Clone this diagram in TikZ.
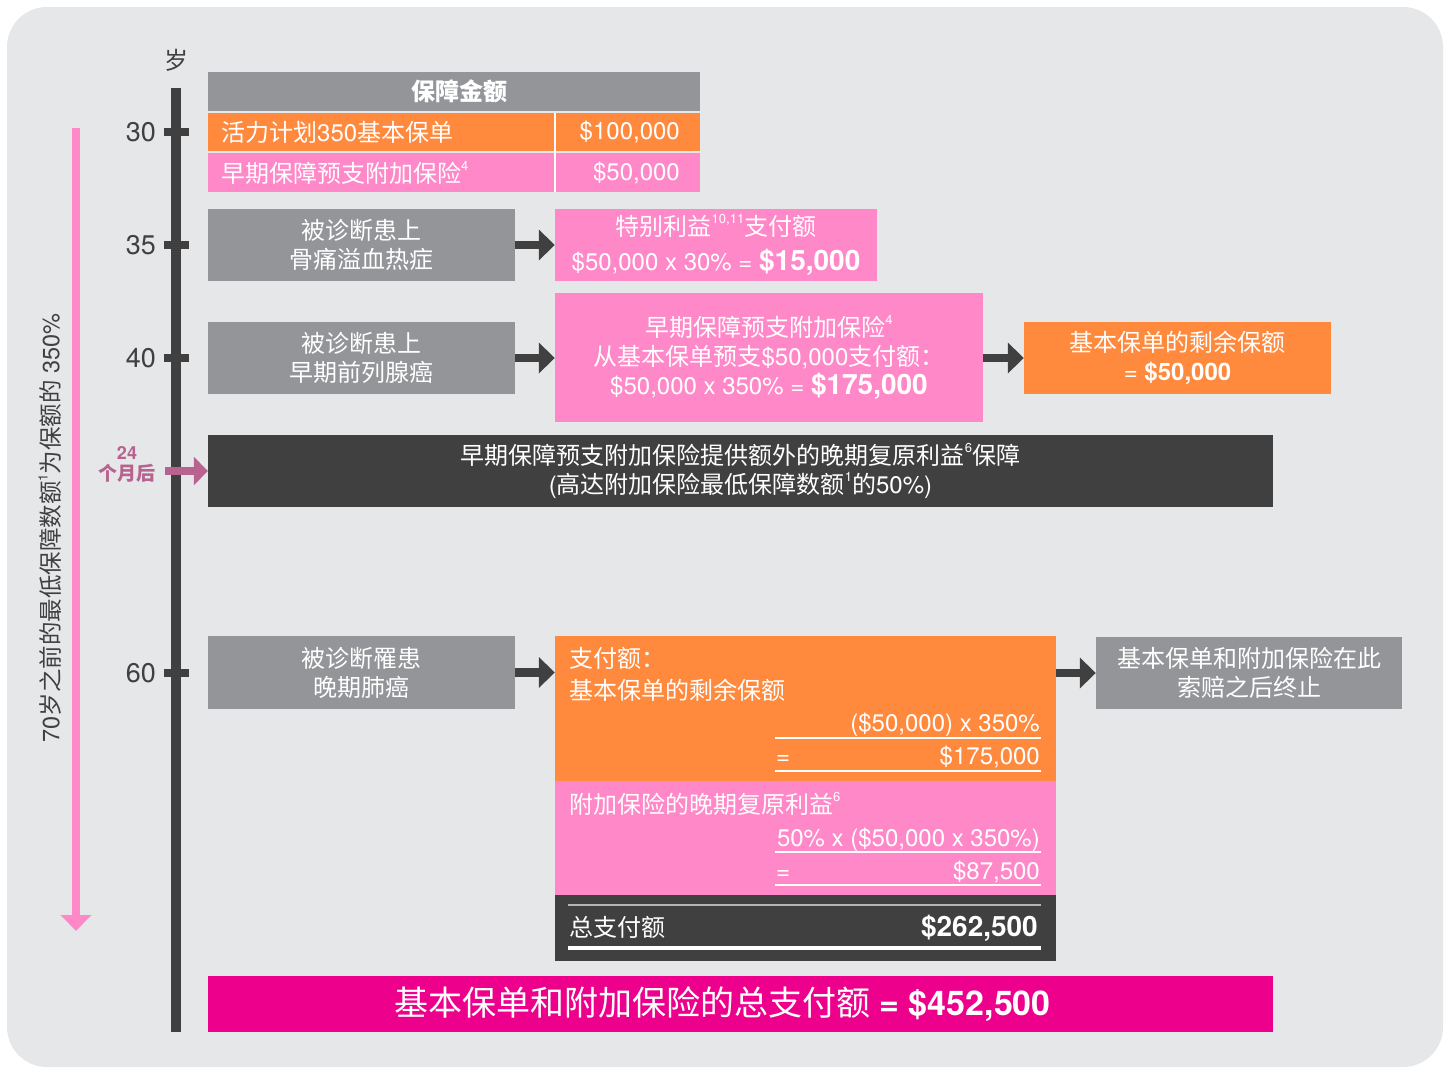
\documentclass[tikz,border=0pt]{standalone}
\usepackage{fontspec}
\setmainfont{TeX Gyre Heros}
\newfontfamily\cjkfont{Noto Sans CJK SC}
\XeTeXinterchartokenstate=1
\newXeTeXintercharclass\cjkcls
\newcount\cjkc
\cjkc="4E00
\loop \XeTeXcharclass\cjkc=\cjkcls \ifnum\cjkc<"9FFF \advance\cjkc by 1 \repeat
\cjkc="3000
\loop \XeTeXcharclass\cjkc=\cjkcls \ifnum\cjkc<"303F \advance\cjkc by 1 \repeat
\cjkc="FF00
\loop \XeTeXcharclass\cjkc=\cjkcls \ifnum\cjkc<"FFEF \advance\cjkc by 1 \repeat
\XeTeXinterchartoks 0 \cjkcls = {\cjkfont}
\XeTeXinterchartoks 4095 \cjkcls = {\cjkfont}
\XeTeXinterchartoks \cjkcls 0 = {\rmfamily}
\XeTeXinterchartoks \cjkcls 4095 = {\rmfamily}
\usetikzlibrary{arrows.meta}
\definecolor{bgc}{HTML}{E6E7E9}
\definecolor{orng}{HTML}{FF8A3D}
\definecolor{pnk}{HTML}{FF88C8}
\definecolor{gry}{HTML}{939598}
\definecolor{drk}{HTML}{404040}
\definecolor{mag}{HTML}{EC008C}
\definecolor{mauve}{HTML}{B8628F}
\newcommand{\supr}[1]{\raisebox{0.5em}{\fontsize{13}{13}\selectfont\rmfamily #1}}
\newcommand{\fs}[1]{\fontsize{#1}{#1}\selectfont}
\tikzset{
  box/.style={inner sep=0pt, text=white, align=center, font=\fontsize{24}{29}\selectfont},
  conn/.style={drk, line width=8.5pt, -{Triangle[length=16pt,width=30pt]}},
  wt/.style={inner sep=0pt, text=white, font=\fs{24}},
  uline/.style={white, line width=1.2pt},
}
\begin{document}
\begin{tikzpicture}[x=1pt,y=-1pt]
\useasboundingbox (0,0) rectangle (1451,1068);
\fill[bgc, rounded corners=40pt] (7,7) rectangle (1443,1067);

% timeline
\fill[drk] (171,88) rectangle (181,1032);
\foreach \yy in {132,245,358,673} \fill[drk] (164,\yy-4) rectangle (189,\yy+4);
\node[inner sep=0pt, text=drk, font=\fs{24}] (sui) at (176,60) {岁};
\node[inner sep=0pt, text=drk, font=\fs{27}, anchor=east] (a30) at (156,132) {30};
\node[inner sep=0pt, text=drk, font=\fs{27}, anchor=east] (a35) at (156,245) {35};
\node[inner sep=0pt, text=drk, font=\fs{27}, anchor=east] (a40) at (156,358) {40};
\node[inner sep=0pt, text=drk, font=\fs{27}, anchor=east] (a60) at (156,673) {60};

% left pink arrow and label
\coordinate (pa1) at (76,128);
\coordinate (pa2) at (76,931);
\draw[pnk, line width=8pt, -{Triangle[length=16pt,width=30pt]}] (pa1) -- (pa2);
\node[inner sep=0pt, text=drk, font=\fs{23.5}, rotate=90] (vt) at (50,528) {70岁之前的最低保障数额\supr{1}为保额的 350\%};

% table
\fill[gry] (208,72) rectangle (700,111);
\fill[orng] (208,113) rectangle (700,151);
\fill[pnk] (208,153) rectangle (700,192);
\draw[white, line width=1.5pt] (555,113) -- (555,192);
\node[wt, font=\fs{24}\bfseries] (th) at (459,91) {保障金额};
\node[wt, anchor=west] (r1a) at (221,132) {活力计划350基本保单};
\node[wt, anchor=east] (r1b) at (680,132) {\$100,000};
\node[wt, anchor=west] (r2a) at (221,173) {早期保障预支附加保险\supr{4}};
\node[wt, anchor=east] (r2b) at (680,173) {\$50,000};

% age 35
\node[box, fill=gry, minimum width=307pt, minimum height=72pt] (b35) at (361.5,245) {被诊断患上\\骨痛溢血热症};
\node[box, fill=pnk, minimum width=322pt, minimum height=72pt] (p35) at (716,245) {特别利益\supr{10,11}支付额\\[6pt]\$50,000 x 30\% = {\fs{28}\bfseries \$15,000}};
\draw[conn] (b35.east) -- (p35.west);

% age 40
\node[box, fill=gry, minimum width=307pt, minimum height=72pt] (b40) at (361.5,358) {被诊断患上\\早期前列腺癌};
\node[box, fill=pnk, minimum width=428pt, minimum height=129pt] (p40) at (769,357.5) {早期保障预支附加保险\supr{4}\\从基本保单预支\$50,000支付额：\\\$50,000 x 350\% = {\fs{28}\bfseries \$175,000}};
\node[box, fill=orng, minimum width=307pt, minimum height=72pt] (o40) at (1177.5,358) {基本保单的剩余保额\\= {\bfseries \$50,000}};
\draw[conn] (b40.east) -- (b40.east -| p40.west);
\draw[conn] (p40.east |- o40.west) -- (o40.west);

% 24 months
\node[inner sep=0pt, text=mauve, font=\fs{18}\bfseries] (m24) at (127,453) {24};
\node[inner sep=0pt, text=mauve, font=\fs{19}\bfseries] (m24b) at (127,473) {个月后};
\node[box, fill=drk, minimum width=1065pt, minimum height=72pt] (d24) at (740.5,471) {早期保障预支附加保险提供额外的晚期复原利益\supr{6}保障\\(高达附加保险最低保障数额\supr{1}的50\%)};
\coordinate (ma) at (165,471);
\draw[mauve, line width=8pt, -{Triangle[length=14pt,width=28pt]}] (ma) -- (d24.west);

% age 60
\node[box, fill=gry, minimum width=307pt, minimum height=73pt] (b60) at (361.5,672.5) {被诊断罹患\\晚期肺癌};
\fill[orng] (555,636) rectangle (1056,781);
\fill[pnk] (555,781) rectangle (1056,895);
\fill[drk] (555,895) rectangle (1056,961);
\node[inner sep=0pt, minimum width=501pt, minimum height=325pt] (p60) at (805.5,798.5) {};
\node[box, fill=gry, minimum width=306pt, minimum height=72pt] (e60) at (1249,673) {基本保单和附加保险在此\\索赔之后终止};
\draw[conn] (b60.east) -- (b60.east -| p60.west);
\draw[conn] (p60.east |- e60.west) -- (e60.west);

\node[wt, anchor=base west] (t1) at (569,667) {支付额：};
\node[wt, anchor=base west] (t2) at (569,699) {基本保单的剩余保额};
\node[wt, anchor=base east] (t3) at (1040,731) {(\$50,000) x 350\%};
\draw[uline] (775,738) -- (1041,738);
\node[wt, anchor=base west] (t4a) at (776,764) {=};
\node[wt, anchor=base east] (t4) at (1040,764) {\$175,000};
\draw[uline] (775,771) -- (1041,771);
\node[wt, anchor=base west] (t5) at (569,813) {附加保险的晚期复原利益\supr{6}};
\node[wt, anchor=base east] (t6) at (1040,846) {50\% x (\$50,000 x 350\%)};
\draw[uline] (775,852) -- (1041,852);
\node[wt, anchor=base west] (t7a) at (776,879) {=};
\node[wt, anchor=base east] (t7) at (1040,879) {\$87,500};
\draw[uline] (775,885) -- (1041,885);
\draw[gry!70!white, line width=1.5pt] (568,905) -- (1041,905);
\node[wt, anchor=base west] (t8) at (569,936) {总支付额};
\node[wt, anchor=base east, font=\fs{28}\bfseries] (t9) at (1038,936) {\$262,500};
\draw[white, line width=3.5pt] (568,948) -- (1041,948);

% total
\node[box, fill=mag, minimum width=1065pt, minimum height=56pt, font=\fs{34}] (tot) at (740.5,1004) {基本保单和附加保险的总支付额 {\bfseries = \$452,500}\hspace*{36pt}};
\end{tikzpicture}
\end{document}
